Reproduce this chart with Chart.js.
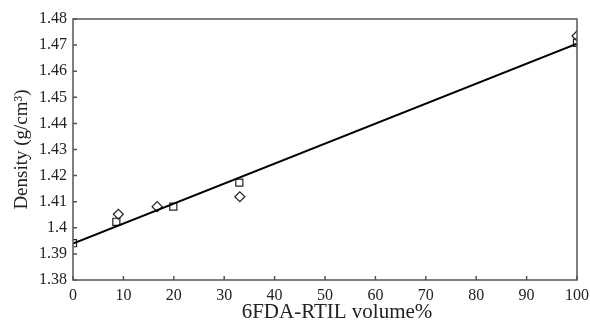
<!DOCTYPE html>
<html>
<head>
<meta charset="UTF-8">
<title>Density vs 6FDA-RTIL volume%</title>
<script src="https://cdn.jsdelivr.net/npm/chart.js@4.4.0/dist/chart.umd.min.js"></script>
<style>
  html, body { margin: 0; padding: 0; background: #fff; }
  #wrap { width: 590px; height: 325px; }
</style>
</head>
<body>
<div id="wrap"><canvas id="myChart"></canvas></div>

<script>
  // values
  const fitX = [0, 100];
  const fitY = [1.394, 1.4705];
  const squareX = [0, 8.6, 19.9, 33, 100];
  const squareY = [1.3941, 1.4023, 1.4081, 1.4173, 1.4709];
  const diamondX = [9, 16.7, 33.1, 100];
  const diamondY = [1.4052, 1.4081, 1.4119, 1.4735];
  const xTicks = [0, 10, 20, 30, 40, 50, 60, 70, 80, 90, 100];
  const yTicks = [1.38, 1.39, 1.40, 1.41, 1.42, 1.43, 1.44, 1.45, 1.46, 1.47, 1.48];
  const xTitle = '6FDA-RTIL volume%';
  const yTitle = 'Density (g/cm³)';

  function pts(xs, ys) {
    return xs.map(function(x, i) { return { x: x, y: ys[i] }; });
  }

  const axisColor = '#555';
  const textColor = '#222';
  const serif = "'Liberation Serif', 'DejaVu Serif', serif";

  // frame + inward ticks + x title (sits a bit right of centre in the original)
  const frame = {
    id: 'frame',
    afterDraw: function(chart) {
      const ctx = chart.ctx;
      const a = chart.chartArea;
      const xs = chart.scales.x, ys = chart.scales.y;
      ctx.save();
      ctx.strokeStyle = axisColor;
      ctx.lineWidth = 1.5;
      ctx.strokeRect(a.left, a.top, a.right - a.left, a.bottom - a.top);
      ctx.beginPath();
      xTicks.forEach(function(v) {
        const px = xs.getPixelForValue(v);
        ctx.moveTo(px, a.bottom);
        ctx.lineTo(px, a.bottom - 4);
      });
      yTicks.forEach(function(v) {
        const py = ys.getPixelForValue(v);
        ctx.moveTo(a.left, py);
        ctx.lineTo(a.left + 4, py);
      });
      ctx.stroke();

      ctx.fillStyle = textColor;
      ctx.font = '21px ' + serif;
      ctx.textAlign = 'center';
      ctx.textBaseline = 'middle';
      ctx.fillText(xTitle, (a.left + a.right) / 2 + 12, a.bottom + 32);
      ctx.restore();
    }
  };

  new Chart('myChart', {
    type: 'scatter',
    data: {
      datasets: [{
        type: 'line',
        data: pts(fitX, fitY),
        borderColor: '#000',
        borderWidth: 2,
        pointRadius: 0,
        fill: false
      }, {
        data: pts(squareX, squareY),
        pointStyle: 'rect',
        pointRadius: 5,
        borderColor: '#222',
        backgroundColor: 'rgba(0,0,0,0)',
        borderWidth: 1.2
      }, {
        data: pts(diamondX, diamondY),
        pointStyle: 'rectRot',
        pointRadius: 5,
        borderColor: '#222',
        backgroundColor: 'rgba(0,0,0,0)',
        borderWidth: 1.2
      }]
    },
    options: {
      responsive: true,
      maintainAspectRatio: false,
      animation: false,
      layout: { padding: { left: 0, right: 13, top: 19, bottom: 0 } },
      plugins: { legend: { display: false }, tooltip: { enabled: false } },
      scales: {
        x: {
          type: 'linear',
          min: 0, max: 100,
          afterBuildTicks: function(s) { s.ticks = xTicks.map(function(v) { return { value: v }; }); },
          afterFit: function(s) { s.height = 45; s.paddingLeft = 0; s.paddingRight = 0; },
          grid: { display: false, drawTicks: false },
          border: { display: false },
          ticks: { color: textColor, padding: 6, font: { family: serif, size: 16 } }
        },
        y: {
          type: 'linear',
          min: 1.38, max: 1.48,
          afterBuildTicks: function(s) { s.ticks = yTicks.map(function(v) { return { value: v }; }); },
          afterFit: function(s) { s.width = 73; s.paddingTop = 0; s.paddingBottom = 0; },
          grid: { display: false, drawTicks: false },
          border: { display: false },
          ticks: {
            color: textColor, padding: 6, font: { family: serif, size: 16 },
            callback: function(v) { return String(parseFloat(v.toFixed(2))); }
          },
          title: { display: true, text: yTitle, color: textColor, padding: { top: 11, bottom: 0 }, font: { family: serif, size: 19 } }
        }
      }
    },
    plugins: [frame]
  });
</script>
</body>
</html>
